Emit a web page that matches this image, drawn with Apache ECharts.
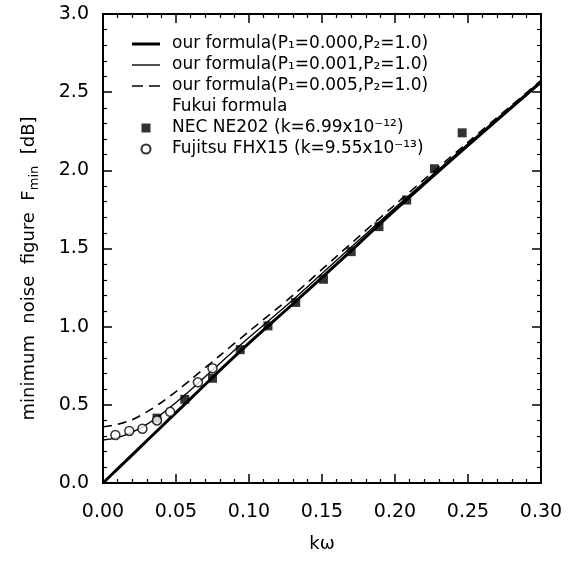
<!DOCTYPE html>
<html><head><meta charset="utf-8">
<script src="https://cdn.jsdelivr.net/npm/echarts@6/dist/echarts.min.js"></script>
<style>html,body{margin:0;padding:0;background:#fff}#c{width:581px;height:561px}</style>
</head><body><div id="c"></div>
<script>
// ---- data ----
var kwCurve = [0, 0.01, 0.02, 0.03, 0.04, 0.05, 0.06, 0.08, 0.10, 0.13, 0.16, 0.20, 0.25, 0.30];
var fP000 = [0, 0.09, 0.18, 0.27, 0.36, 0.45, 0.54, 0.72, 0.895, 1.145, 1.40, 1.745, 2.16, 2.565];
var fP001 = [0.275, 0.29, 0.325, 0.375, 0.44, 0.515, 0.595, 0.765, 0.93, 1.17, 1.425, 1.76, 2.17, 2.57];
var fP005 = [0.36, 0.375, 0.405, 0.455, 0.515, 0.585, 0.66, 0.815, 0.97, 1.20, 1.45, 1.78, 2.18, 2.575];
var necX = [0.037, 0.056, 0.075, 0.094, 0.113, 0.132, 0.151, 0.170, 0.189, 0.208, 0.227, 0.246];
var necF = [0.415, 0.535, 0.67, 0.853, 1.005, 1.155, 1.303, 1.48, 1.64, 1.81, 2.01, 2.24];
var fjX = [0.0085, 0.018, 0.027, 0.037, 0.046, 0.065, 0.075];
var fjF = [0.307, 0.333, 0.347, 0.40, 0.455, 0.644, 0.734];
var seriesNames = ['our formula(P\u2081=0.000,P\u2082=1.0)', 'our formula(P\u2081=0.001,P\u2082=1.0)',
  'our formula(P\u2081=0.005,P\u2082=1.0)', 'Fukui formula', 'NEC NE202 (k=6.99x10\u207B\u00B9\u00B2)',
  'Fujitsu FHX15 (k=9.55x10\u207B\u00B9\u00B3)'];
var xTicks = {min: 0, max: 0.30, step: 0.05};
var yTicks = {min: 0, max: 3.0, step: 0.5};

function zip(a, b) { return a.map(function (v, i) { return [v, b[i]]; }); }

var FONT = 'DejaVu Sans';
function axisBase(pos, showLabel, isX) {
  var t = isX ? xTicks : yTicks;
  return {
    type: 'value', position: pos, min: t.min, max: t.max, interval: t.step,
    axisLine: {show: true, onZero: false, lineStyle: {color: '#000', width: 2}},
    axisTick: {show: true, inside: true, length: 9, lineStyle: {color: '#000', width: 1.5}},
    minorTick: {show: true, splitNumber: 5, length: 4, lineStyle: {color: '#000', width: 1.2}},
    splitLine: {show: false}, minorSplitLine: {show: false},
    axisLabel: {show: showLabel, color: '#000', fontFamily: FONT, fontSize: 19, margin: isX ? 20 : 14,
      formatter: function (v) { return v.toFixed(isX ? 2 : 1); }}
  };
}

var xMain = axisBase('bottom', true, true);
xMain.name = 'k\u03C9'; xMain.nameLocation = 'middle'; xMain.nameGap = 52;
xMain.nameTextStyle = {color: '#000', fontFamily: FONT, fontSize: 18};
var xTop = axisBase('top', false, true);
var yMain = axisBase('left', true, false);
yMain.name = 'minimum  noise  figure  F{sub|min}  [dB]';
yMain.nameLocation = 'middle'; yMain.nameGap = 62;
yMain.nameTextStyle = {color: '#000', fontFamily: FONT, fontSize: 18, padding: [0, 40, 0, 0],
  rich: {sub: {fontSize: 13, fontFamily: FONT, color: '#000', padding: [10, 0, 0, 0]}}};
var yRight = axisBase('right', false, false);

var chart = echarts.init(document.getElementById('c'), null, {renderer: 'canvas'});
chart.setOption({
  animation: false,
  backgroundColor: '#fff',
  grid: {left: 103, right: 40, top: 14, bottom: 78},
  xAxis: [xMain, xTop],
  yAxis: [yMain, yRight],
  legend: {
    orient: 'vertical', left: 127, top: 30, itemWidth: 28, itemHeight: 9, itemGap: 3,
    selectedMode: false, symbolKeepAspect: true,
    textStyle: {color: '#000', fontFamily: FONT, fontSize: 17, lineHeight: 18, padding: [0, 0, 0, 7]},
    data: [
      {name: seriesNames[0], icon: 'path://M0,0H28V3H0Z', itemStyle: {color: '#000'}},
      {name: seriesNames[1], icon: 'path://M0,0H28V1.4H0Z', itemStyle: {color: '#000'}},
      {name: seriesNames[2], icon: 'path://M0,0H11V1.6H0Z M17,0H28V1.6H17Z', itemStyle: {color: '#000'}},
      {name: seriesNames[3], icon: 'rect', itemStyle: {color: 'rgba(0,0,0,0)', borderWidth: 0, opacity: 0}},
      {name: seriesNames[4], icon: 'path://M0,0H9V9H0Z', itemStyle: {color: '#000'}},
      {name: seriesNames[5], icon: 'circle'}
    ]
  },
  series: [
    {name: seriesNames[0], type: 'line', data: zip(kwCurve, fP000), symbol: 'none', smooth: 0.3,
      lineStyle: {color: '#000', width: 3}, itemStyle: {color: '#000'}, z: 5},
    {name: seriesNames[1], type: 'line', data: zip(kwCurve, fP001), symbol: 'none', smooth: 0.3,
      lineStyle: {color: '#000', width: 1.3}, itemStyle: {color: '#000'}, z: 4},
    {name: seriesNames[2], type: 'line', data: zip(kwCurve, fP005), symbol: 'none', smooth: 0.3,
      lineStyle: {color: '#000', width: 1.6, type: [9, 6]}, itemStyle: {color: '#000'}, z: 4},
    {name: seriesNames[3], type: 'line', data: [], symbol: 'none',
      lineStyle: {opacity: 0}, itemStyle: {color: 'rgba(0,0,0,0)'}},
    {name: seriesNames[4], type: 'scatter', data: zip(necX, necF), symbol: 'rect', symbolSize: 9,
      itemStyle: {color: '#000'}, z: 6},
    {name: seriesNames[5], type: 'scatter', data: zip(fjX, fjF), symbol: 'circle', symbolSize: 9,
      itemStyle: {color: '#fff', borderColor: '#000', borderWidth: 1.5}, z: 6}
  ]
});
</script></body></html>
